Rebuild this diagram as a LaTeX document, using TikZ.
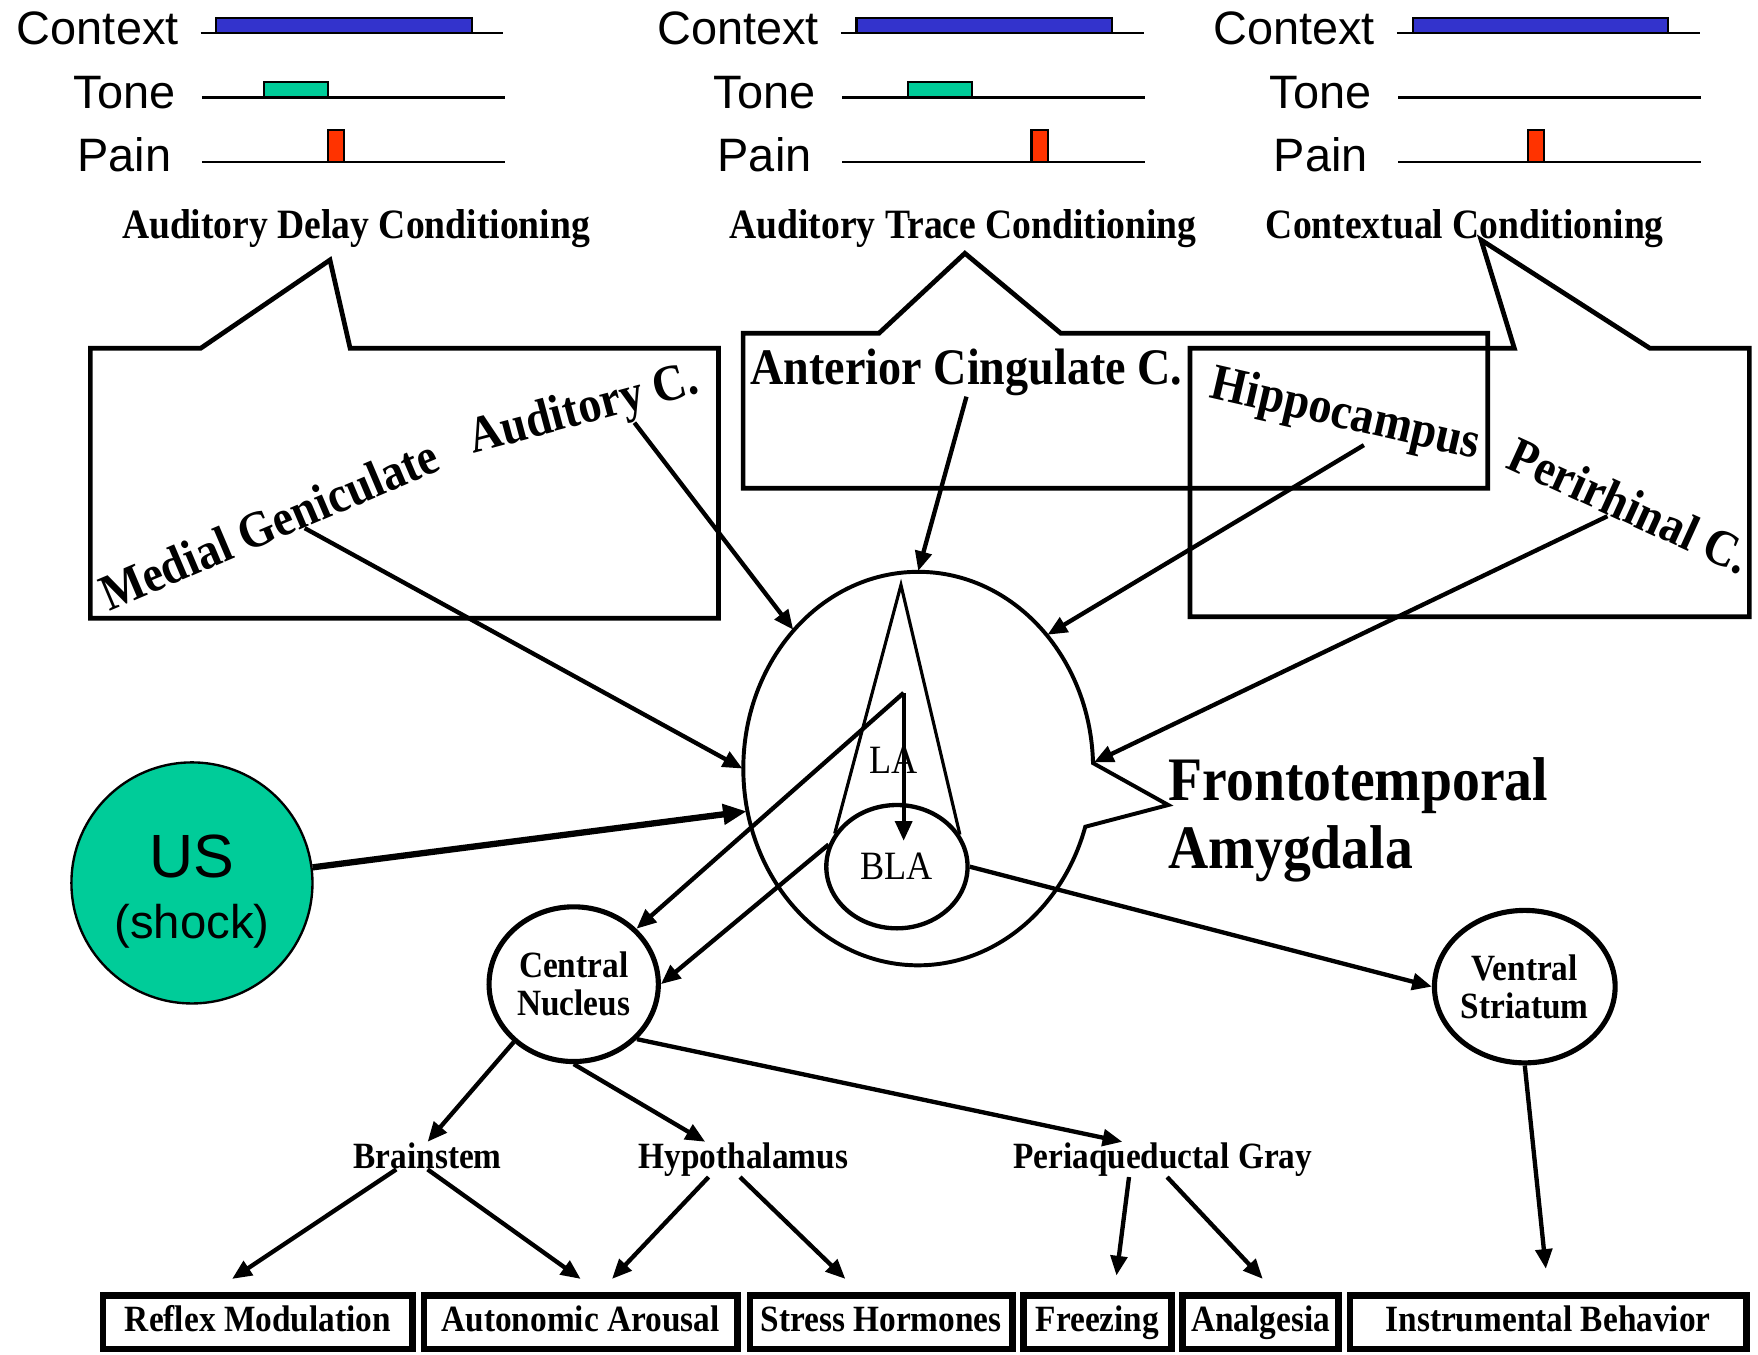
\documentclass[tikz,border=0pt]{standalone}
\usepackage{fontspec}
\setmainfont{Liberation Serif}
\newfontfamily\arialfont{Liberation Sans}
\newfontfamily\narrowfont[FakeStretch=0.9]{Liberation Serif}
\usetikzlibrary{arrows.meta, calc, shapes.geometric}

\definecolor{ctxblue}{HTML}{3333CC}
\definecolor{tonegreen}{HTML}{00CC99}
\definecolor{painred}{HTML}{FF3300}

\begin{document}
\begin{tikzpicture}[x=0.1mm, y=0.1mm,
    evlabel/.style={anchor=base east, inner sep=0, font=\arialfont\fontsize{11.9}{13}\selectfont},
    track/.style={line width=0.55pt},
    bar/.style={draw=black, line width=0.55pt},
    cond/.style={anchor=base, inner sep=0, font=\narrowfont\bfseries\fontsize{10.6}{12}\selectfont},
    callout/.style={line width=1.2pt},
    region/.style={anchor=base, inner sep=0, font=\narrowfont\bfseries\fontsize{13}{15}\selectfont},
    nucleus/.style={ellipse, draw, line width=1.3pt, inner sep=0, align=center, font=\narrowfont\bfseries\fontsize{9.4}{9.7}\selectfont},
    relay/.style={anchor=base, inner sep=0, font=\narrowfont\bfseries\fontsize{9.4}{11}\selectfont},
    outbox/.style={draw, line width=1.6pt, minimum height=4.8mm, inner sep=0, text height=6.5pt, text depth=1.8pt, font=\narrowfont\bfseries\fontsize{9.4}{11}\selectfont},
    arr/.style={line width=1.1pt, -{Triangle[length=5pt,width=4.2pt]}},
    usarr/.style={line width=1.6pt, -{Triangle[length=6pt,width=5pt]}},
  ]
  \useasboundingbox (0,0) rectangle (1568,-1208);

  \foreach \dx [count=\i] in {0,571,1067} {
    \node[evlabel] (ctx\i) at (160+\dx,-40) {Context};
    \node[evlabel] (tone\i) at (157+\dx,-96.6) {Tone};
    \node[evlabel] (pain\i) at (153.5+\dx,-153) {Pain};
    \draw[track] (179+\dx,-29.7) -- (449+\dx,-29.7);
    \draw[track] (180+\dx,-87) -- (450+\dx,-87);
    \draw[track] (180+\dx,-144.8) -- (450+\dx,-144.8);
    \filldraw[bar, fill=ctxblue] (193+\dx,-16.4) rectangle (421+\dx,-29.7);
  }
  \filldraw[bar, fill=tonegreen] (235.5,-72.8) rectangle (292.5,-87);
  \filldraw[bar, fill=tonegreen] (810,-72.8) rectangle (867,-87);
  \filldraw[bar, fill=painred] (292.5,-116) rectangle (306.5,-144.8);
  \filldraw[bar, fill=painred] (920,-116) rectangle (934.5,-144.8);
  \filldraw[bar, fill=painred] (1362.5,-116) rectangle (1377.3,-144.8);

  \node[cond] (delay) at (317.5,-212.5) {Auditory Delay Conditioning};
  \node[cond] (trace) at (859,-212.5) {Auditory Trace Conditioning};
  \node[cond] (contextual) at (1306.5,-212.5) {Contextual Conditioning};

  \draw[callout] (80.6,-310.7) -- (178.9,-310.7) -- (294.3,-231.9) -- (312.3,-310.7) -- (640.8,-310.7) -- (640.8,-551.5) -- (80.6,-551.5) -- cycle;
  \draw[callout] (662.8,-297.3) -- (783.9,-297.3) -- (860.6,-225.9) -- (946.2,-297.3) -- (1327,-297.3) -- (1327,-435.5) -- (662.8,-435.5) -- cycle;
  \draw[callout] (1061.4,-310.7) -- (1350.7,-310.7) -- (1321,-214) -- (1471.7,-310.7) -- (1560.3,-310.7) -- (1560.3,-550) -- (1061.4,-550) -- cycle;

  \node[region, rotate=23] (mg) at (246,-482) {Medial Geniculate};
  \node[region, rotate=15] (aud) at (523.5,-377.4) {Auditory C.};
  \node[region] (acc) at (862,-343) {Anterior Cingulate C.};
  \node[region, rotate=-13] (hip) at (1197.4,-381.9) {Hippocampus};
  \node[region, rotate=-24.5] (per) at (1447,-465) {Perirhinal C.};

  \node[ellipse, minimum width=31.2mm, minimum height=35.1mm, inner sep=0] (amyg) at (819,-685.5) {};
  \coordinate (amygtip) at (1042,-718);
  \draw[line width=1pt] (974.9,-680.6) arc[start angle=1.6, end angle=342.8, x radius=156, y radius=175.5] -- (amygtip) -- cycle;
  \node[anchor=west, align=left, inner sep=0, font=\narrowfont\bfseries\fontsize{15.7}{17.35}\selectfont] (ftamyg) at (1041.7,-731) {Frontotemporal\\Amygdala};

  \node[ellipse, draw, line width=1.1pt, minimum width=12.6mm, minimum height=11mm, inner sep=0, font=\narrowfont\fontsize{10.2}{12}\selectfont] (bla) at (800,-773) {BLA};
  \node[inner sep=0, font=\narrowfont\fontsize{10.2}{12}\selectfont] (la) at (797,-678) {LA};
  \coordinate (laapex) at (803.6,-521.8);
  \coordinate (laout) at (806,-618);
  \draw[line width=0.8pt] (bla.152) -- (laapex) -- (bla.27);

  \node[circle, draw, fill=tonegreen, line width=0.6pt, minimum size=21.5mm, inner sep=0] (us) at (171.2,-787.5) {};
  \node[align=center, inner sep=0, font=\arialfont\fontsize{12}{15.6}\selectfont] (ustext) at (171.2,-795) {{\fontsize{15.5}{15.6}\selectfont US}\\(shock)};

  \node[nucleus, minimum width=15.1mm, minimum height=13.8mm] (cn) at (511.7,-877.8) {Central\\Nucleus};
  \node[nucleus, minimum width=15mm, minimum height=13.6mm] (vs) at (1360,-880) {Ventral\\Striatum};

  \node[relay] (brain) at (381.4,-1042) {Brainstem};
  \node[relay] (hypo) at (663,-1042) {Hypothalamus};
  \node[relay] (pag) at (1037,-1042) {Periaqueductal Gray};

  \node[outbox, minimum width=27.6mm] (refl) at (230,-1179.5) {Reflex Modulation};
  \node[outbox, minimum width=28mm] (arousal) at (517.9,-1179.5) {Autonomic Arousal};
  \node[outbox, minimum width=23.4mm] (stress) at (786,-1179.5) {Stress Hormones};
  \node[outbox, minimum width=13.2mm] (freez) at (978.8,-1179.5) {Freezing};
  \node[outbox, minimum width=13.9mm] (analg) at (1124.3,-1179.5) {Analgesia};
  \node[outbox, minimum width=35.4mm] (instr) at (1380.8,-1179.5) {Instrumental Behavior};

  \draw[arr] ($(mg.base)!2.8mm!(mg.base east)$) -- (amyg.180);
  \draw[arr] ($(aud.south)!4.1mm!(aud.south east)$) -- (amyg.132);
  \draw[arr] (acc.south) -- (amyg.90);
  \draw[arr] ($(hip.south)!2.2mm!(hip.south east)$) -- (amyg.46);
  \draw[arr] ($(per.south)!1.4mm!(per.south west)$) -- (amyg.2);
  \draw[usarr] (us) -- (amyg.194);

  \draw[arr] (laout) -- ($(bla)+(6,23)$);
  \draw[arr] (laout) -- (cn);
  \draw[arr] (bla.162) -- (cn.east);
  \draw[arr] (bla.east) -- (vs.west);

  \draw[arr] (cn.224) -- (brain.north);
  \draw[arr] (cn.south) -- ($(hypo.north)+(-34,0)$);
  \draw[arr] (cn.-41) -- ($(pag.north)+(-36,0)$);
  \draw[arr] (vs.south) -- ($(instr.north)+(-2,21)$);
  \draw[arr] ($(brain.south)+(-28,0)$) -- ($(refl.north)+(-23,12)$);
  \draw[arr] (brain.south) -- ($(arousal.north)+(0,12)$);
  \draw[arr] ($(hypo.south)+(-31,0)$) -- ($(arousal.north)+(28,12)$);
  \draw[arr] ($(hypo.south)+(-3,0)$) -- ($(stress.north)+(-32,12)$);
  \draw[arr] ($(pag.south)+(-30,0)$) -- ($(freez.north)+(17,15)$);
  \draw[arr] ($(pag.south)+(4,0)$) -- ($(analg.north)+(2,12)$);
\end{tikzpicture}
\end{document}
